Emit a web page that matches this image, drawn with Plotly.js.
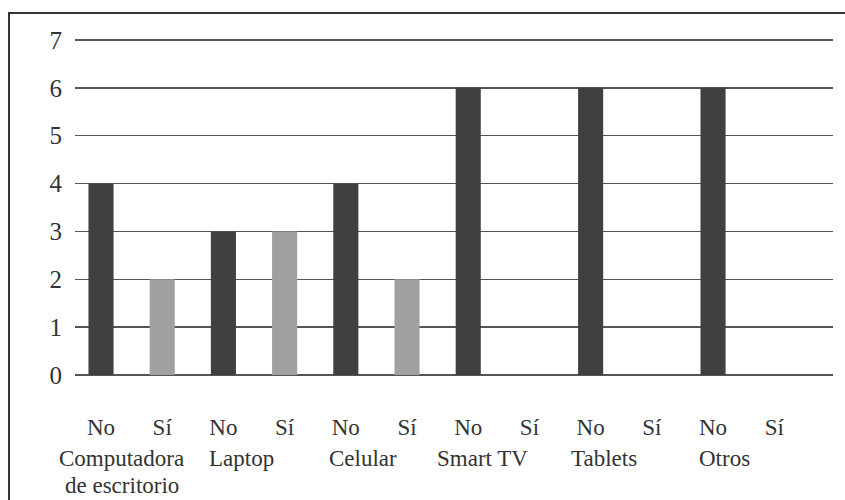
<!DOCTYPE html>
<html>
<head>
<meta charset="utf-8">
<script src="https://cdn.plot.ly/plotly-3.0.1.min.js"></script>
<style>
  html, body { margin: 0; padding: 0; background: #fff; }
  #frame { position: absolute; left: 8px; top: 12px; width: 900px; height: 600px; border: 2px solid #333; box-sizing: border-box; pointer-events: none; }
  #chart { position: absolute; left: 0; top: 0; width: 845px; height: 500px; }
</style>
</head>
<body>
<div id="chart"></div>
<div id="frame"></div>
<script>
const groups = ['Computadora<br>de escritorio', 'Laptop', 'Celular', 'Smart TV', 'Tablets', 'Otros'];
const answers = ['No', 'Sí'];
const noValues = [4, 3, 4, 6, 6, 6];
const siValues = [2, 3, 2, 0, 0, 0];
const yTicks = [0, 1, 2, 3, 4, 5, 6, 7];

const noX = groups.map((g, i) => 2 * i);
const siX = groups.map((g, i) => 2 * i + 1);
const tickVals = [];
const tickText = [];
groups.forEach((g, i) => { answers.forEach((a, j) => { tickVals.push(2 * i + j); tickText.push(a); }); });

const labelShift = [0.34, 0.30, 0.28, 0.24, 0.22, 0.18];
const font = "'Liberation Serif', 'Times New Roman', 'DejaVu Serif', serif";

const traces = [
  { type: 'bar', x: noX, y: noValues, width: 0.41, marker: { color: '#404040' }, name: 'No', hoverinfo: 'none' },
  { type: 'bar', x: siX, y: siValues, width: 0.41, marker: { color: '#a0a0a2' }, name: 'Sí', hoverinfo: 'none' }
];

const annotations = [];
groups.forEach((g, i) => {
  g.split('<br>').forEach((line, k) => {
    annotations.push({
      text: line, x: 2 * i + labelShift[i], xref: 'x', y: -0.205 - k * 0.08, yref: 'paper',
      xanchor: 'center', yanchor: 'top', showarrow: false, align: 'center',
      font: { family: font, size: 23, color: '#333' }
    });
  });
});

const layout = {
  width: 845, height: 500,
  margin: { l: 75, r: 12, t: 38, b: 125 },
  paper_bgcolor: '#fff', plot_bgcolor: '#fff',
  showlegend: false,
  barmode: 'overlay',
  font: { family: font, color: '#333' },
  xaxis: {
    range: [-0.425, 11.96], tickvals: tickVals, ticktext: tickText,
    showgrid: false, zeroline: false, showline: false, ticks: '',
    ticklabelstandoff: 36,
    tickfont: { family: font, size: 23, color: '#333' }
  },
  yaxis: {
    range: [0, 7.04], tickvals: yTicks, showgrid: true, gridcolor: '#555', gridwidth: 1.5,
    zeroline: true, zerolinecolor: '#555', zerolinewidth: 1.5, showline: false, ticks: '',
    ticklabelstandoff: 12,
    tickfont: { family: font, size: 25, color: '#333' }
  },
  annotations: annotations
};

Plotly.newPlot('chart', traces, layout, { staticPlot: true });
</script>
</body>
</html>
